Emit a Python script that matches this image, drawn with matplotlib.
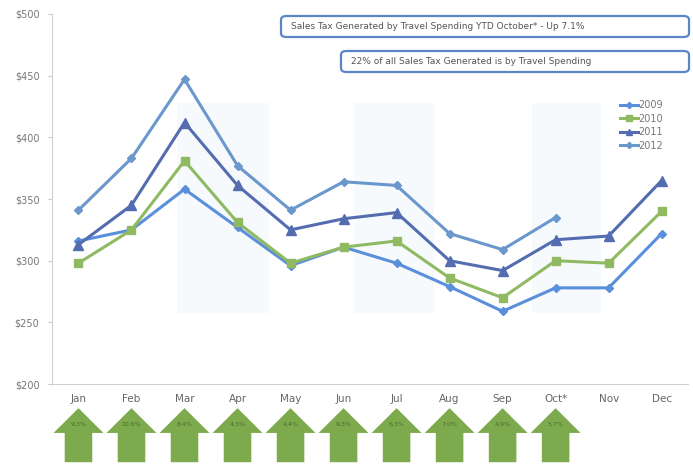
import matplotlib.pyplot as plt
from matplotlib.patches import FancyBboxPatch, Polygon, Rectangle
from matplotlib.transforms import blended_transform_factory

months = ['Jan', 'Feb', 'Mar', 'Apr', 'May', 'Jun', 'Jul', 'Aug', 'Sep', 'Oct*', 'Nov', 'Dec']
sales_2009 = [316, 325, 358, 327, 296, 311, 298, 279, 259, 278, 278, 322]
sales_2010 = [298, 325, 381, 331, 298, 311, 316, 286, 270, 300, 298, 340]
sales_2011 = [313, 345, 412, 361, 325, 334, 339, 300, 292, 317, 320, 365]
sales_2012 = [341, 383, 447, 377, 341, 364, 361, 322, 309, 335]
growth = ['9.3%', '10.6%', '8.4%', '4.3%', '4.4%', '9.3%', '6.3%', '7.0%', '4.9%', '5.7%']
yticks = [200, 250, 300, 350, 400, 450, 500]

fig = plt.figure(figsize=(6.93, 4.65), dpi=100)
ax = fig.add_axes([0.075, 0.174, 0.918, 0.796])
x = list(range(len(months)))

# faint background bands
for x0, w in [(1.85, 1.75), (5.2, 1.5), (8.55, 1.3)]:
    ax.add_patch(Rectangle((x0, 258), w, 170, color='#f7fafd', zorder=0, lw=0))

ax.plot(x, sales_2009, color='#5a8fdb', lw=2.2, marker='D', ms=4.5, label='2009')
ax.plot(x, sales_2010, color='#8fba62', lw=2.2, marker='s', ms=5.5, label='2010')
ax.plot(x, sales_2011, color='#536db0', lw=2.2, marker='^', ms=6.5, label='2011')
ax.plot(x[:len(sales_2012)], sales_2012, color='#6a97cc', lw=2.2, marker='D', ms=4.5, label='2012')

ax.set_xlim(-0.5, len(months) - 0.5)
ax.set_ylim(200, 500)
ax.set_xticks(x)
ax.set_xticklabels(months)
ax.set_yticks(yticks)
ax.set_yticklabels(['$%d' % v for v in yticks])
ax.tick_params(axis='x', length=0, pad=7, labelsize=7.5, labelcolor='#666666')
ax.tick_params(axis='y', length=3, color='#cccccc', pad=6, labelsize=7, labelcolor='#777777')
for side in ['top', 'right']:
    ax.spines[side].set_visible(False)
for side in ['left', 'bottom']:
    ax.spines[side].set_color('#d0d0d0')

ax.legend(loc='upper right', bbox_to_anchor=(0.975, 0.79), frameon=False, fontsize=7,
          handlelength=1.8, handletextpad=0.1, labelspacing=0.35, labelcolor='#777777',
          markerscale=0.7)

# growth arrows under each month
tr = blended_transform_factory(ax.transData, ax.transAxes)
for i, g in enumerate(growth):
    pts = [(i - 0.47, -0.132), (i, -0.065), (i + 0.47, -0.132), (i + 0.26, -0.132),
           (i + 0.26, -0.211), (i - 0.26, -0.211), (i - 0.26, -0.132)]
    ax.add_patch(Polygon(pts, closed=True, transform=tr, clip_on=False,
                         facecolor='#7caa4c', edgecolor='none'))
    ax.text(i, -0.108, g, transform=tr, ha='center', va='center', fontsize=4.5,
            color='#4a6a30')

# callout boxes
W, H = 693.0, 465.0
for (x0, y0, x1, y1, txt) in [(281, 16, 689, 37, 'Sales Tax Generated by Travel Spending YTD October* - Up 7.1%'),
                               (341, 51, 689, 72, '22% of all Sales Tax Generated is by Travel Spending')]:
    box = FancyBboxPatch((x0 / W, 1 - y1 / H), (x1 - x0) / W, (y1 - y0) / H,
                         boxstyle='round,pad=0,rounding_size=0.008', transform=fig.transFigure,
                         facecolor='white', edgecolor='#5b84c9', lw=1.6)
    fig.patches.append(box)
    fig.text((x0 + 10) / W, 1 - (y0 + y1) / 2 / H, txt, fontsize=6.5, color='#555555',
             ha='left', va='center')

fig.savefig('out.png', dpi=100)
